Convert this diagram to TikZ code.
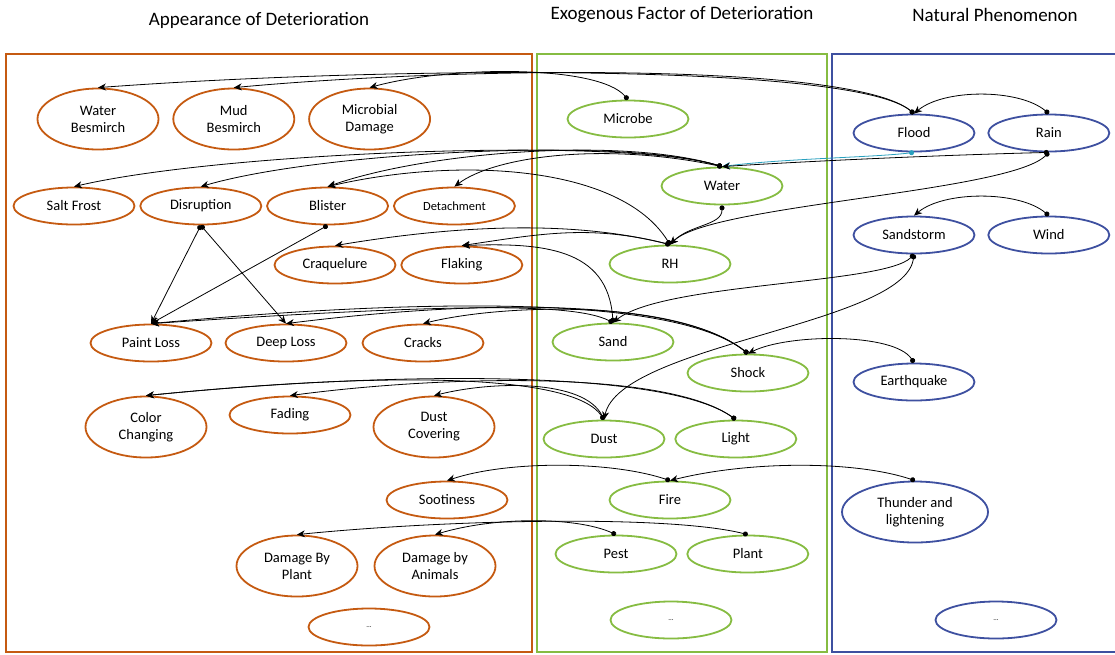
\documentclass[tikz,border=0pt]{standalone}
\usepackage{fontspec}
\setmainfont{Carlito}
\usetikzlibrary{positioning,shapes.geometric,arrows.meta}

\definecolor{dmgc}{RGB}{197,90,17}
\definecolor{facc}{RGB}{134,188,66}
\definecolor{natc}{RGB}{62,80,160}
\definecolor{wetc}{RGB}{40,160,190}

\tikzset{
  oval/.style={ellipse, line width=1.8pt, minimum width=121pt, minimum height=37pt,
    inner sep=0pt, align=center, font=\fontsize{14.5}{17}\selectfont},
  tall/.style={minimum height=61pt},
  dmg/.style={oval, draw=dmgc},
  fac/.style={oval, draw=facc},
  nat/.style={oval, draw=natc},
  link/.style={{Circle[length=5pt]}->, line width=0.8pt},
  coltitle/.style={font=\fontsize{19}{22}\selectfont},
  frame/.style={line width=1.6pt}
}

\begin{document}
\begin{tikzpicture}[x=1pt, y=1pt, >={Stealth[length=8pt,width=7pt,inset=2.5pt]}]
  \useasboundingbox (0,0) rectangle (1115,-654);

  % titles and frames
  \node [coltitle] (ttl1) at (259,-20) {Appearance of Deterioration};
  \node [coltitle] (ttl2) at (682,-15) {Exogenous Factor of Deterioration};
  \node [coltitle] (ttl3) at (995,-15) {Natural Phenomenon};
  \draw [frame, dmgc] (6,-54) rectangle (532,-652);
  \draw [frame, facc] (537,-54) rectangle (827,-652);
  \draw [frame, natc] (832,-54) rectangle (1125,-652);

  % appearance of deterioration
  \node [dmg, tall] (wbes) at (98,-119) {Water\\Besmirch};
  \node [dmg, tall, right=13pt of wbes] (mbes) {Mud\\Besmirch};
  \node [dmg, tall, right=13pt of mbes] (micd) {Microbial\\Damage};
  \node [dmg] (salt) at (74,-206) {Salt Frost};
  \node [dmg, right=4pt of salt] (disr) {Disruption};
  \node [dmg, right=4pt of disr] (blis) {Blister};
  \node [dmg, right=4pt of blis, font=\fontsize{12.5}{15}\selectfont] (deta) {Detachment};
  \node [dmg] (craq) at (335,-265) {Craquelure};
  \node [dmg, right=4pt of craq] (flak) {Flaking};
  \node [dmg] (pain) at (151,-343) {Paint Loss};
  \node [dmg] (deep) at (286,-343) {Deep Loss};
  \node [dmg] (crac) at (423,-343) {Cracks};
  \node [dmg, tall] (colc) at (146,-427) {Color\\Changing};
  \node [dmg] (fadi) at (290,-415) {Fading};
  \node [dmg, tall] (dcov) at (434,-427) {Dust\\Covering};
  \node [dmg] (soot) at (447,-500) {Sootiness};
  \node [dmg, tall] (dplt) at (297,-566) {Damage By\\Plant};
  \node [dmg, tall] (dani) at (435,-566) {Damage by\\Animals};
  \node [dmg] (more1) at (369,-627) {\scriptsize ...};

  % exogenous factors
  \node [fac] (micr) at (628,-119) {Microbe};
  \node [fac] (watr) at (722,-186) {Water};
  \node [fac] (rh) at (670,-264) {RH};
  \node [fac] (sand) at (613,-342) {Sand};
  \node [fac] (shoc) at (748,-373) {Shock};
  \node [fac] (dust) at (604,-439) {Dust};
  \node [fac, right=9pt of dust] (ligh) {Light};
  \node [fac] (fire) at (670,-500) {Fire};
  \node [fac] (pest) at (616,-554) {Pest};
  \node [fac, right=9pt of pest] (plnt) {Plant};
  \node [fac] (more2) at (671,-620) {\scriptsize ...};

  % natural phenomena
  \node [nat] (flod) at (914,-133) {Flood};
  \node [nat, right=12pt of flod] (rain) {Rain};
  \node [nat] (sstm) at (914,-235) {Sandstorm};
  \node [nat, right=12pt of sstm] (wind) {Wind};
  \node [nat] (eqk) at (914,-382) {Earthquake};
  \node [nat, tall, minimum width=146pt] (thun) at (915,-512) {Thunder and\\lightening};
  \node [nat] (more3) at (996,-620) {\scriptsize ...};

  % rain, flood, microbe
  \draw [link] (rain.north) .. controls +(-30,25) and +(30,25) .. (flod.north);
  \draw [link] (flod.north) .. controls +(-60,50) and +(300,22) .. (wbes.north);
  \draw [link] (flod.north) .. controls +(-60,50) and +(240,22) .. (mbes.north);
  \draw [link] (micr.north) .. controls +(-30,35) and +(80,22) .. (micd.north);
  \draw [link, wetc] (flod.south) .. controls +(-40,-5) and +(60,8) .. (watr.north);
  \draw [link] (rain.south) .. controls +(-120,-3) and +(80,5) .. (watr.north);
  \draw [link] (rain.south) .. controls +(-40,-40) and +(40,40) .. (rh.north);
  \draw [link] (watr.south) .. controls +(0,-20) and +(20,20) .. (rh.north);

  % water and humidity
  \draw [link] (watr.north) .. controls +(-100,30) and +(150,35) .. (salt.north);
  \draw [link] (watr.north) .. controls +(-100,30) and +(120,35) .. (disr.north);
  \draw [link] (watr.north) .. controls +(-100,30) and +(100,35) .. (blis.north);
  \draw [link] (watr.north) .. controls +(-120,25) and +(40,30) .. (deta.north);
  \draw [link] (rh.north) .. controls +(-50,80) and +(130,30) .. (blis.north);
  \draw [link] (rh.north) .. controls +(-100,25) and +(120,20) .. (craq.north);
  \draw [link] (rh.north) .. controls +(-80,20) and +(80,12) .. (flak.north);

  % sand, sandstorm, shock
  \draw [link] (sand.north) .. controls +(-5,75) and +(80,3) .. (flak.north);
  \draw [link] (sstm.south) .. controls +(-30,-30) and +(50,40) .. (sand.north);
  \draw [link] (sstm.south) .. controls +(-10,-70) and +(16,75) .. (dust.north);
  \draw [link] (wind.north) .. controls +(-30,25) and +(30,25) .. (sstm.north);
  \draw [link] (eqk.north) .. controls +(-20,30) and +(40,20) .. (shoc.north);
  \draw [link] (shoc.north) .. controls +(-70,55) and +(300,28) .. (pain.north);
  \draw [link] (shoc.north) .. controls +(-70,55) and +(200,25) .. (deep.north);
  \draw [link] (shoc.north) .. controls +(-70,55) and +(80,20) .. (crac.north);
  \draw [link] (sand.north) .. controls +(-40,20) and +(300,20) .. (pain.north);
  \draw [link] (disr.south) -- (pain.north);
  \draw [link] (disr.south) -- (deep.north);
  \draw [link] (blis.south) -- (pain.north);

  % light and dust
  \draw [link] (ligh.north) .. controls +(-70,50) and +(250,25) .. (colc.north);
  \draw [link] (ligh.north) .. controls +(-70,50) and +(150,20) .. (fadi.north);
  \draw [link] (dust.north) .. controls +(-30,45) and +(250,25) .. (colc.north);
  \draw [link] (dust.north) .. controls +(-20,40) and +(60,15) .. (dcov.north);

  % fire, pest, plant
  \draw [link] (thun.north) .. controls +(-60,20) and +(80,20) .. (fire.north);
  \draw [link] (fire.north) .. controls +(-60,20) and +(60,20) .. (soot.north);
  \draw [link] (pest.north) .. controls +(-40,18) and +(60,18) .. (dani.north);
  \draw [link] (plnt.north) .. controls +(-80,20) and +(150,15) .. (dplt.north);
\end{tikzpicture}
\end{document}
